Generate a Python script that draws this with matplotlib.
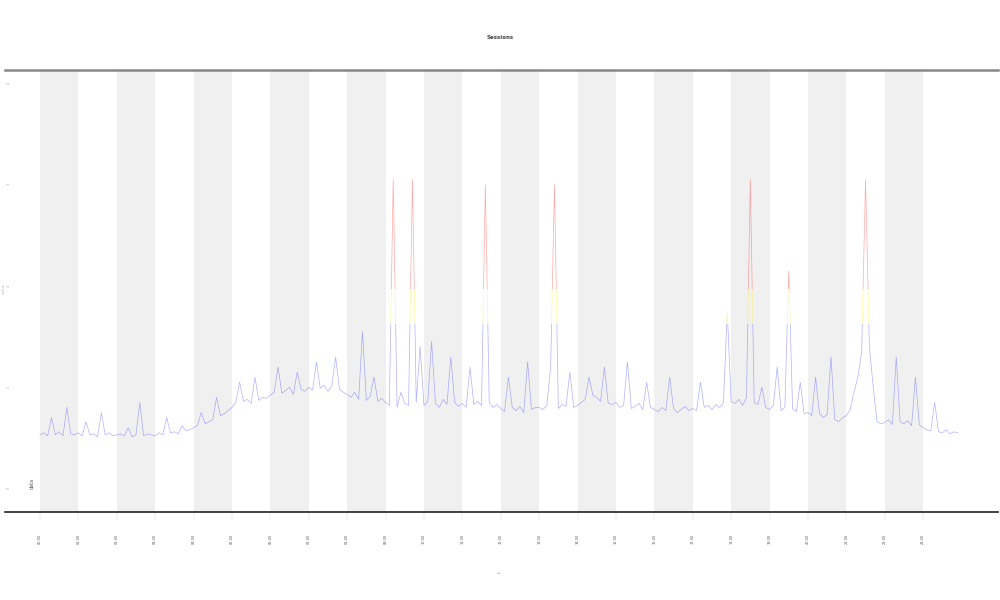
import matplotlib
matplotlib.use("Agg")
import matplotlib.pyplot as plt
import numpy as np
from matplotlib.patches import Rectangle

# readings, 10 samples per hour
hour_vals = [
	[0.53, 0.55, 0.52, 0.70, 0.53, 0.56, 0.52, 0.80, 0.54, 0.53],
	[0.55, 0.52, 0.66, 0.53, 0.54, 0.51, 0.75, 0.53, 0.55, 0.52],
	[0.53, 0.54, 0.52, 0.60, 0.51, 0.53, 0.85, 0.52, 0.54, 0.53],
	[0.52, 0.55, 0.53, 0.70, 0.55, 0.56, 0.54, 0.62, 0.57, 0.58],
	[0.60, 0.62, 0.75, 0.64, 0.66, 0.68, 0.90, 0.72, 0.74, 0.77],
	[0.80, 0.85, 1.05, 0.86, 0.88, 0.84, 1.10, 0.87, 0.90, 0.89],
	[0.92, 0.95, 1.20, 0.94, 0.97, 1.00, 0.93, 1.15, 0.98, 0.96],
	[1.00, 0.97, 1.25, 0.99, 1.02, 0.96, 1.01, 1.30, 0.98, 0.95],
	[0.93, 0.90, 0.95, 0.88, 1.55, 0.87, 0.91, 1.10, 0.86, 0.89],
	[0.85, 0.82, 3.05, 0.80, 0.95, 0.84, 0.82, 3.05, 0.85, 1.40],
	[0.82, 0.86, 1.45, 0.84, 0.80, 0.88, 0.83, 1.30, 0.85, 0.81],
	[0.84, 0.80, 1.20, 0.83, 0.86, 0.82, 3.00, 0.85, 0.80, 0.83],
	[0.79, 0.76, 1.10, 0.80, 0.77, 0.81, 0.75, 1.25, 0.78, 0.80],
	[0.80, 0.78, 0.82, 1.20, 3.00, 0.79, 0.83, 0.81, 1.15, 0.80],
	[0.82, 0.85, 0.88, 1.10, 0.92, 0.90, 0.86, 1.20, 0.84, 0.83],
	[0.85, 0.80, 0.82, 1.25, 0.79, 0.81, 0.84, 0.78, 1.05, 0.80],
	[0.78, 0.76, 0.80, 0.77, 1.10, 0.79, 0.75, 0.78, 0.81, 0.77],
	[0.79, 0.77, 1.05, 0.80, 0.82, 0.78, 0.83, 0.80, 0.85, 1.75],
	[0.86, 0.84, 0.88, 0.82, 0.90, 3.05, 0.85, 0.83, 1.00, 0.80],
	[0.78, 0.82, 1.20, 0.77, 0.80, 2.15, 0.79, 0.76, 1.05, 0.74],
	[0.75, 0.72, 1.10, 0.74, 0.70, 0.73, 1.30, 0.68, 0.66, 0.70],
	[0.72, 0.78, 0.95, 1.10, 1.35, 3.05, 1.40, 1.00, 0.66, 0.64],
	[0.65, 0.68, 0.63, 1.30, 0.66, 0.64, 0.67, 0.62, 1.10, 0.63],
	[0.60, 0.58, 0.57, 0.85, 0.56, 0.55, 0.58, 0.54, 0.56, 0.55],
]
hour_labels = ["%02d:00" % h for h in range(24)]
y_ticks = [0, 1, 2, 3, 4]

# colour bands: (low, high, colour)
bands = [(-1, 1.62, "#3333ff"), (1.62, 1.97, "#ffee00"), (1.97, 10, "#ff2020")]


def main():
	y = np.array(hour_vals).ravel()
	x = np.arange(len(y)) / 10.0

	fig = plt.figure(figsize=(10, 6), dpi=100)
	ax = fig.add_axes([0.005, 0.147, 0.993, 0.736])

	# alternating shaded hours
	for k in range(0, 24, 2):
		ax.axvspan(k, k + 1, color="#f0f0f0", lw=0, zorder=0)

	# same line drawn once per colour band, clipped to the band
	for lo, hi, col in bands:
		ln, = ax.plot(x, y, color=col, lw=0.5, alpha=0.38, zorder=2)
		clip = Rectangle((-5, lo), 40, hi - lo, transform=ax.transData)
		ln.set_clip_path(clip)

	ax.set_xlim(-0.91, 24.95)
	ax.set_ylim(-0.23, 4.13)

	ax.set_xticks(range(24))
	ax.set_xticklabels(hour_labels, rotation=90, fontsize=2.5, color="#555555")
	ax.set_yticks(y_ticks)
	ax.set_yticklabels([str(v) for v in y_ticks], rotation=90, fontsize=2.5, color="#aaaaaa")
	ax.tick_params(axis="x", length=6, width=0.3, color="#cccccc", pad=10)
	ax.tick_params(axis="y", length=0, pad=-4)

	for s in ["left", "right"]:
		ax.spines[s].set_visible(False)
	ax.spines["top"].set_color("#888888")
	ax.spines["top"].set_linewidth(1.8)
	ax.spines["bottom"].set_color("#222222")
	ax.spines["bottom"].set_linewidth(1.2)

	fig.text(0.5, 0.938, "Sessions", ha="center", va="center", fontsize=4,
		fontweight="bold", color="#444444")
	fig.text(0.5, 0.047, "t", ha="center", va="center", fontsize=3,
		rotation=90, color="#666666")
	fig.text(0.004, 0.52, "value", ha="center", va="center", fontsize=3,
		rotation=90, color="#bbbbbb")
	ax.text(-0.2, 0.05, "data", ha="center", va="center", fontsize=3.5,
		rotation=90, color="#555555")

	fig.savefig("out.png", dpi=100)


if __name__ == '__main__':
	main()
